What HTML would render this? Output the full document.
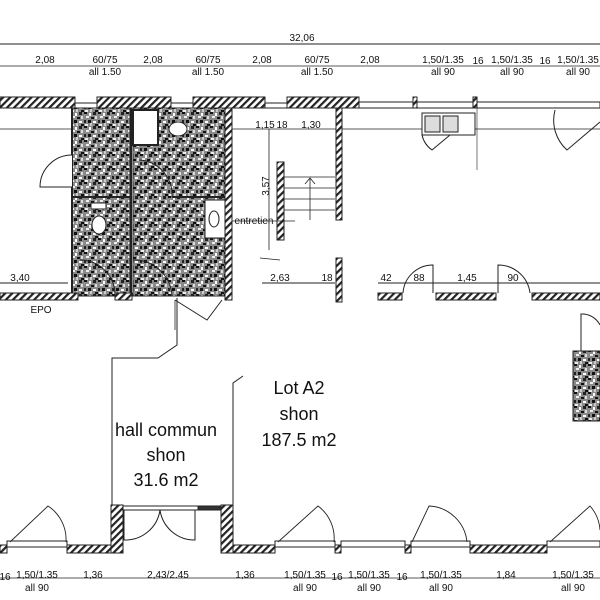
<!DOCTYPE html>
<html><head><meta charset="utf-8"><style>
html,body{margin:0;padding:0;background:#fff;width:600px;height:600px;overflow:hidden}
svg{display:block}
text{font-family:"Liberation Sans",sans-serif;fill:#111}
</style></head><body>
<svg width="600" height="600" viewBox="0 0 600 600" xmlns="http://www.w3.org/2000/svg">
<defs>
<pattern id="h" width="5" height="5" patternUnits="userSpaceOnUse" patternTransform="rotate(45)">
<rect width="5" height="5" fill="#fff"/><rect width="2.2" height="5" fill="#222"/></pattern>
<pattern id="n" width="14" height="14" patternUnits="userSpaceOnUse">
<rect width="14" height="14" fill="#8a8a8a"/>
<rect x="0" y="0" width="3" height="2" fill="#111"/><rect x="5" y="1" width="2" height="3" fill="#fff"/>
<rect x="9" y="0" width="3" height="3" fill="#222"/><rect x="2" y="4" width="3" height="2" fill="#eee"/>
<rect x="7" y="5" width="3" height="2" fill="#111"/><rect x="11" y="4" width="2" height="3" fill="#ddd"/>
<rect x="0" y="8" width="2" height="3" fill="#222"/><rect x="4" y="8" width="3" height="3" fill="#111"/>
<rect x="9" y="9" width="3" height="2" fill="#fff"/><rect x="1" y="12" width="3" height="2" fill="#eee"/>
<rect x="6" y="11" width="2" height="3" fill="#ccc"/><rect x="11" y="12" width="3" height="2" fill="#111"/>
</pattern>
</defs>
<g stroke="#222" fill="none" stroke-width="1">
<line x1="0" y1="44" x2="600" y2="44"/>
<line x1="0" y1="66" x2="600" y2="66" stroke-width="0.8"/>
<line x1="0" y1="129" x2="600" y2="129" stroke-width="0.8"/>
<line x1="0" y1="283" x2="68" y2="283"/>
<line x1="262" y1="283" x2="335" y2="283"/>
<line x1="378" y1="283" x2="600" y2="283"/>
<line x1="0" y1="578" x2="600" y2="578" stroke-width="0.8"/>
</g>
<g font-size="10" text-anchor="middle">
<text x="302" y="41">32,06</text>
<text x="45" y="63">2,08</text><text x="105" y="63">60/75</text><text x="105" y="75">all 1.50</text>
<text x="153" y="63">2,08</text><text x="208" y="63">60/75</text><text x="208" y="75">all 1.50</text>
<text x="262" y="63">2,08</text><text x="317" y="63">60/75</text><text x="317" y="75">all 1.50</text>
<text x="370" y="63">2,08</text>
<text x="443" y="63">1,50/1.35</text><text x="443" y="75">all 90</text><text x="478" y="64">16</text>
<text x="512" y="63">1,50/1.35</text><text x="512" y="75">all 90</text><text x="545" y="64">16</text>
<text x="578" y="63">1,50/1.35</text><text x="578" y="75">all 90</text>
<text x="5" y="580">16</text>
<text x="37" y="578">1,50/1.35</text><text x="37" y="591">all 90</text>
<text x="93" y="578">1,36</text><text x="168" y="578">2,43/2.45</text><text x="245" y="578">1,36</text>
<text x="305" y="578">1,50/1.35</text><text x="305" y="591">all 90</text><text x="337" y="580">16</text>
<text x="369" y="578">1,50/1.35</text><text x="369" y="591">all 90</text><text x="402" y="580">16</text>
<text x="441" y="578">1,50/1.35</text><text x="441" y="591">all 90</text>
<text x="506" y="578">1,84</text>
<text x="573" y="578">1,50/1.35</text><text x="573" y="591">all 90</text>
<text x="265" y="128">1,15</text><text x="282" y="128">18</text><text x="311" y="128">1,30</text>
<text x="20" y="281">3,40</text><text x="280" y="281">2,63</text><text x="327" y="281">18</text>
<text x="386" y="281">42</text><text x="419" y="281">88</text><text x="467" y="281">1,45</text><text x="513" y="281">90</text>
<text x="41" y="313">EPO</text>
<text x="254" y="224" font-size="10">entretien</text>
<text x="0" y="0" transform="translate(269,186) rotate(-90)">3,57</text>
</g>
<g stroke="#222" stroke-width="1">
<rect x="0" y="97" width="75" height="11" fill="url(#h)"/>
<rect x="75" y="103" width="22" height="5" fill="#fff"/>
<rect x="97" y="97" width="74" height="11" fill="url(#h)"/>
<rect x="171" y="103" width="22" height="5" fill="#fff"/>
<rect x="193" y="97" width="72" height="11" fill="url(#h)"/>
<rect x="265" y="103" width="22" height="5" fill="#fff"/>
<rect x="287" y="97" width="72" height="11" fill="url(#h)"/>
<rect x="359" y="102" width="54" height="6" fill="#fff"/>
<rect x="413" y="97" width="4" height="11" fill="url(#h)"/>
<rect x="417" y="102" width="56" height="6" fill="#fff"/>
<rect x="473" y="97" width="4" height="11" fill="url(#h)"/>
<rect x="477" y="102" width="123" height="6" fill="#fff"/>
<rect x="72" y="108" width="58" height="188" fill="url(#n)"/>
<rect x="133" y="108" width="93" height="188" fill="url(#n)"/>
<line x1="72" y1="197" x2="130" y2="197" stroke-width="2"/>
<line x1="72" y1="108" x2="72" y2="300" stroke-width="2"/>
<line x1="131" y1="108" x2="131" y2="300" stroke-width="2"/>
<line x1="172" y1="197" x2="226" y2="197" stroke-width="2"/>
<rect x="133" y="110" width="25" height="35" fill="#fff" stroke-width="2"/>
<rect x="205" y="200" width="20" height="38" fill="#fff"/>
<ellipse cx="214" cy="219" rx="5" ry="8" fill="#fff"/>
<ellipse cx="178" cy="129" rx="9" ry="7" fill="#fff"/>
<ellipse cx="99" cy="225" rx="7" ry="9" fill="#fff"/>
<rect x="91" y="203" width="15" height="6" fill="#fff"/>
<path d="M72 155 A32 32 0 0 0 40 187 L72 187" fill="#fff"/>
<path d="M139 160 A35 35 0 0 1 172 197" fill="none"/>
<path d="M80 260 A35 35 0 0 1 115 294" fill="none"/>
<path d="M133 260 A38 38 0 0 1 172 296" fill="none"/>
<rect x="225" y="108" width="7" height="192" fill="url(#h)"/>
<rect x="336" y="108" width="6" height="112" fill="url(#h)"/>
<rect x="277" y="162" width="7" height="78" fill="url(#h)"/>
<g fill="none" stroke-width="0.8">
<line x1="284" y1="177" x2="335" y2="177"/><line x1="284" y1="188" x2="335" y2="188"/>
<line x1="284" y1="199" x2="335" y2="199"/><line x1="284" y1="210" x2="335" y2="210"/>
<line x1="310" y1="178" x2="310" y2="220"/><path d="M305 184 L310 178 L315 184"/>
<line x1="269" y1="129" x2="269" y2="250"/><line x1="232" y1="221" x2="295" y2="221"/>
<line x1="260" y1="258" x2="280" y2="260"/>
</g>
<rect x="336" y="258" width="6" height="44" fill="url(#h)"/>
<rect x="0" y="293" width="78" height="7" fill="url(#h)"/>
<rect x="115" y="293" width="17" height="7" fill="url(#h)"/>
<path d="M175 300 L207 320 L222 300" fill="none"/>
<line x1="175" y1="300" x2="175" y2="330" stroke-width="0.8"/>
<rect x="378" y="293" width="24" height="7" fill="url(#h)"/>
<rect x="436" y="293" width="60" height="7" fill="url(#h)"/>
<rect x="532" y="293" width="68" height="7" fill="url(#h)"/>
<path d="M403 293 A30 30 0 0 1 433 265 L433 293" fill="none"/>
<path d="M530 293 A32 32 0 0 0 498 265 L498 293" fill="none"/>
<rect x="573" y="351" width="27" height="70" fill="url(#n)"/>
<path d="M581 351 L581 314 A20 20 0 0 1 600 325" fill="none"/>
<rect x="422" y="113" width="53" height="22" fill="#fff"/>
<rect x="425" y="116" width="15" height="16" fill="#ddd"/><rect x="443" y="116" width="15" height="16" fill="#ddd"/>
<path d="M422 135 A25 25 0 0 0 432 150 L450 135" fill="none"/>
<path d="M555 110 A40 40 0 0 0 567 150 L600 122" fill="none"/>
<line x1="477" y1="108" x2="477" y2="170" stroke-width="0.6"/>
<path d="M112 505 L112 358 L158 358 L177 345 L177 298" fill="none"/>
<path d="M233 505 L233 383 L243 376" fill="none"/>
<rect x="0" y="545" width="7" height="8" fill="url(#h)"/>
<rect x="7" y="541" width="60" height="6" fill="#fff"/>
<rect x="67" y="545" width="55" height="8" fill="url(#h)"/>
<rect x="111" y="505" width="12" height="48" fill="url(#h)"/>
<rect x="221" y="505" width="12" height="48" fill="url(#h)"/>
<rect x="123" y="506" width="75" height="4" fill="#fff"/>
<rect x="198" y="506" width="23" height="4" fill="#333"/>
<path d="M124 510 L124 540 A35 35 0 0 0 160 510 A35 35 0 0 0 195 540 L195 510" fill="none"/>
<rect x="233" y="545" width="42" height="8" fill="url(#h)"/>
<rect x="275" y="541" width="60" height="6" fill="#fff"/>
<rect x="335" y="545" width="6" height="8" fill="url(#h)"/>
<rect x="341" y="541" width="64" height="6" fill="#fff"/>
<rect x="405" y="545" width="6" height="8" fill="url(#h)"/>
<rect x="411" y="541" width="59" height="6" fill="#fff"/>
<rect x="470" y="545" width="77" height="8" fill="url(#h)"/>
<rect x="547" y="541" width="53" height="6" fill="#fff"/>
<g fill="none" stroke-width="0.9">
<path d="M10 542 L48 506 A40 40 0 0 1 66 542"/>
<path d="M278 542 L318 506 A40 40 0 0 1 334 542"/>
<path d="M412 542 L429 506 A40 40 0 0 1 467 542"/>
<path d="M550 542 L590 506 A40 40 0 0 1 600 530"/>
</g>
</g>
<g font-size="18" text-anchor="middle">
<text x="299" y="394">Lot A2</text><text x="299" y="420">shon</text><text x="299" y="446">187.5 m2</text>
<text x="166" y="436">hall commun</text><text x="166" y="461">shon</text><text x="166" y="486">31.6 m2</text>
</g>
</svg>
</body></html>
